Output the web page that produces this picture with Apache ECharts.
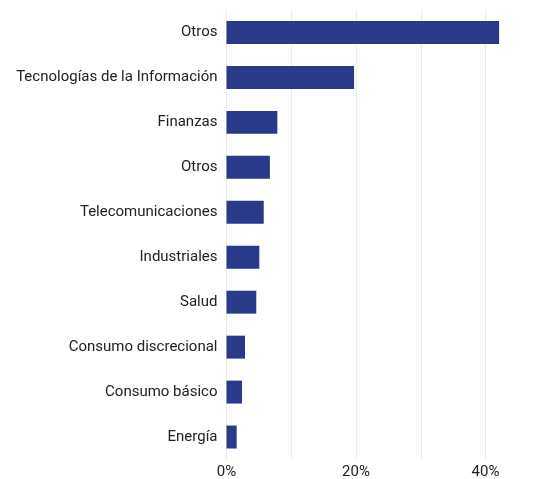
<!DOCTYPE html>
<html><head><meta charset="utf-8">
<script src="https://cdn.jsdelivr.net/npm/echarts@6/dist/echarts.min.js"></script>
<style>html,body{margin:0;padding:0;background:#fff}#c{width:535px;height:479px}</style>
</head><body><div id="c"></div>
<script>
const categories = ["Otros","Tecnologías de la Información","Finanzas","Otros","Telecomunicaciones","Industriales","Salud","Consumo discrecional","Consumo básico","Energía"];
const values = [42.1, 19.7, 7.85, 6.7, 5.75, 5.07, 4.6, 2.86, 2.4, 1.57];
const tickLabels = {0:"0%",20:"20%",40:"40%"};

const chart = echarts.init(document.getElementById('c'), null, {renderer:'canvas'});
chart.setOption({
  animation:false,
  grid:{left:226.5, width:323.75, top:10, height:449.5, containLabel:false, outerBoundsMode:'none'},
  xAxis:{type:'value', min:0, max:50, interval:10,
    axisLine:{show:false}, axisTick:{show:false},
    splitLine:{show:true, lineStyle:{color:'#ebebeb', width:1}},
    axisLabel:{fontFamily:'Roboto', fontSize:15, color:'#222', margin:5,
      formatter:v=> (tickLabels[v] !== undefined ? tickLabels[v] : '')}},
  yAxis:{type:'category', inverse:true, data:categories,
    axisLine:{show:false}, axisTick:{show:false},
    axisLabel:{fontFamily:'Roboto', fontSize:15, color:'#222', margin:9}},
  series:[{type:'bar', data:values, barWidth:'51%',
    itemStyle:{color:'#283a89'}}]
});
</script></body></html>
